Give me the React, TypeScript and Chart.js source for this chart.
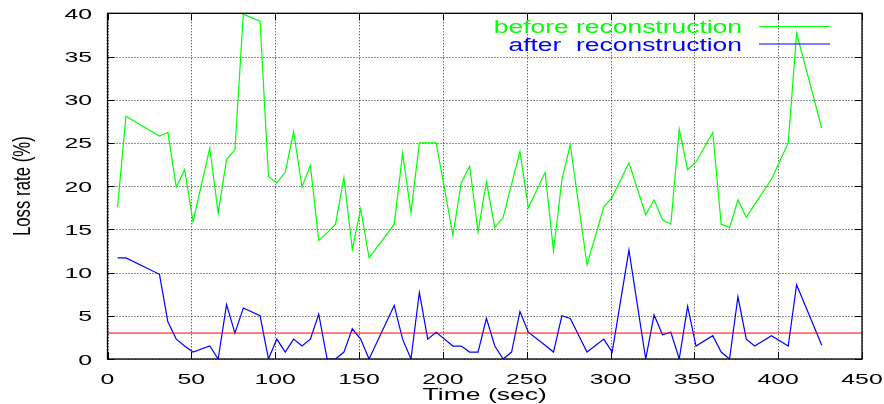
import React, { useEffect, useRef } from "react";
import { Chart, registerables } from "chart.js";

Chart.register(...registerables);

const times = [6, 11, 31, 36, 41, 46, 51, 61, 66, 71, 76, 81, 91, 96, 101, 106, 111, 116, 121, 126, 131, 136, 141, 146, 151, 156, 171, 176, 181, 186, 191, 196, 201, 206, 211, 216, 221, 226, 231, 236, 241, 246, 251, 261, 266, 271, 276, 286, 296, 301, 311, 321, 326, 331, 336, 341, 346, 351, 361, 366, 371, 376, 381, 386, 396, 406, 411, 426];

const beforeLoss = [17.6, 28.1, 25.8, 26.2, 19.9, 21.9, 15.9, 24.4, 16.9, 23.1, 24.2, 39.9, 39.1, 21.1, 20.4, 21.6, 26.3, 19.9, 22.4, 13.7, 14.6, 15.6, 21.0, 12.7, 17.4, 11.7, 15.6, 23.8, 16.9, 25.0, 25.0, 25.0, 19.7, 14.3, 20.4, 22.3, 14.7, 20.5, 15.2, 16.4, 20.2, 24.0, 17.5, 21.6, 12.5, 20.7, 24.8, 10.9, 17.6, 18.7, 22.7, 16.7, 18.4, 16.1, 15.6, 26.6, 21.9, 22.8, 26.2, 15.6, 15.2, 18.4, 16.4, 17.9, 20.8, 25.0, 37.7, 26.7];

const afterLoss = [11.7, 11.7, 9.8, 4.3, 2.3, 1.5, 0.8, 1.5, 0, 6.3, 3.0, 5.9, 5.0, 0, 2.3, 0.8, 2.3, 1.5, 2.3, 5.2, 0, 0, 0.8, 3.5, 2.3, 0, 6.2, 2.3, 0, 7.7, 2.3, 3.1, 2.3, 1.5, 1.5, 0.8, 0.8, 4.7, 1.5, 0, 0.8, 5.5, 3.1, 1.6, 0.8, 5.0, 4.7, 0.8, 2.3, 0.8, 12.6, 0, 5.1, 2.8, 3.1, 0, 6.1, 1.5, 2.7, 0.8, 0, 7.2, 2.3, 1.5, 2.7, 1.5, 8.6, 1.6];

const thresholdLoss = 3;
const thresholdRange = [0, 450];

const xTicks = [0, 50, 100, 150, 200, 250, 300, 350, 400, 450];
const yTicks = [0, 5, 10, 15, 20, 25, 30, 35, 40];

const xTitle = "Time (sec)";
const yTitle = "Loss rate (%)";
const legendBefore = "before reconstruction";
const legendAfter = "after  reconstruction";

const GREEN = "#00ff00";
const BLUE = "#0000ff";
const RED = "#ff0000";
const FONT = "'Liberation Sans', Arial, Helvetica, sans-serif";

function stretchedText(
  ctx: CanvasRenderingContext2D,
  text: string,
  x: number,
  y: number,
  size: number,
  sx: number,
  align: CanvasTextAlign,
  color: string
) {
  ctx.save();
  ctx.translate(x, y);
  ctx.scale(sx, 1);
  ctx.font = `${size}px ${FONT}`;
  ctx.textAlign = align;
  ctx.textBaseline = "alphabetic";
  ctx.fillStyle = color;
  ctx.fillText(text, 0, 0);
  ctx.restore();
}

const gnuplotPlugin = {
  id: "gnuplotLook",
  beforeDatasetsDraw(chart: any) {
    const { ctx, chartArea, scales } = chart;
    const { left, right, top, bottom } = chartArea;
    ctx.save();
    ctx.strokeStyle = "rgba(0,0,0,0.85)";
    ctx.lineWidth = 1;
    ctx.setLineDash([1, 2]);
    xTicks.forEach((v) => {
      const px = Math.round(scales.x.getPixelForValue(v)) + 0.5;
      ctx.beginPath();
      ctx.moveTo(px, top);
      ctx.lineTo(px, bottom);
      ctx.stroke();
    });
    yTicks.forEach((v) => {
      const py = Math.round(scales.y.getPixelForValue(v)) + 0.5;
      ctx.beginPath();
      ctx.moveTo(left, py);
      ctx.lineTo(right, py);
      ctx.stroke();
    });
    ctx.restore();
  },
  afterDraw(chart: any) {
    const { ctx, chartArea, scales } = chart;
    const { left, right, top, bottom } = chartArea;
    ctx.save();
    // border
    ctx.strokeStyle = "#000";
    ctx.lineWidth = 1.3;
    ctx.setLineDash([]);
    ctx.strokeRect(left, top, right - left, bottom - top);
    // inward ticks
    const tl = 7;
    ctx.lineWidth = 1;
    xTicks.forEach((v) => {
      const px = Math.round(scales.x.getPixelForValue(v)) + 0.5;
      ctx.beginPath();
      ctx.moveTo(px, bottom);
      ctx.lineTo(px, bottom - tl);
      ctx.moveTo(px, top);
      ctx.lineTo(px, top + tl);
      ctx.stroke();
    });
    yTicks.forEach((v) => {
      const py = Math.round(scales.y.getPixelForValue(v)) + 0.5;
      ctx.beginPath();
      ctx.moveTo(left, py);
      ctx.lineTo(left + tl, py);
      ctx.moveTo(right, py);
      ctx.lineTo(right - tl, py);
      ctx.stroke();
    });
    ctx.restore();

    // tick labels
    xTicks.forEach((v) => {
      stretchedText(ctx, String(v), scales.x.getPixelForValue(v), bottom + 24.5, 15.5, 1.6, "center", "#000");
    });
    yTicks.forEach((v) => {
      stretchedText(ctx, String(v), left - 15.5, scales.y.getPixelForValue(v) + 5.5, 15.5, 1.6, "right", "#000");
    });

    // axis titles
    stretchedText(ctx, xTitle, (left + right) / 2, bottom + 41, 16.3, 1.63, "center", "#000");
    ctx.save();
    ctx.translate(30, (top + bottom) / 2);
    ctx.scale(1.45, 1);
    ctx.rotate(-Math.PI / 2);
    ctx.font = `16.8px ${FONT}`;
    ctx.textAlign = "center";
    ctx.textBaseline = "alphabetic";
    ctx.fillStyle = "#000";
    ctx.fillText(yTitle, 0, 0);
    ctx.restore();

    // legend
    const textRight = 742;
    const lineX0 = 759;
    const lineX1 = 830;
    stretchedText(ctx, legendBefore, textRight, 33, 17.5, 1.51, "right", GREEN);
    stretchedText(ctx, legendAfter, textRight, 50.5, 17.5, 1.51, "right", BLUE);
    ctx.save();
    ctx.lineWidth = 1.2;
    ctx.strokeStyle = GREEN;
    ctx.beginPath();
    ctx.moveTo(lineX0, 26.5);
    ctx.lineTo(lineX1, 26.5);
    ctx.stroke();
    ctx.strokeStyle = BLUE;
    ctx.beginPath();
    ctx.moveTo(lineX0, 44);
    ctx.lineTo(lineX1, 44);
    ctx.stroke();
    ctx.restore();
  },
};

export default function App() {
  const canvasRef = useRef<HTMLCanvasElement | null>(null);

  useEffect(() => {
    if (!canvasRef.current) return;
    const chart = new Chart(canvasRef.current, {
      type: "line",
      data: {
        datasets: [
          {
            label: legendBefore,
            data: times.map((t, i) => ({ x: t, y: beforeLoss[i] })),
            borderColor: GREEN,
            borderWidth: 1.2,
            pointRadius: 0,
            tension: 0,
            fill: false,
            order: 2,
          },
          {
            label: legendAfter,
            data: times.map((t, i) => ({ x: t, y: afterLoss[i] })),
            borderColor: BLUE,
            borderWidth: 1.2,
            pointRadius: 0,
            tension: 0,
            fill: false,
            order: 1,
          },
          {
            label: "threshold",
            data: thresholdRange.map((t) => ({ x: t, y: thresholdLoss })),
            borderColor: RED,
            borderWidth: 1,
            pointRadius: 0,
            tension: 0,
            fill: false,
            order: 0,
          },
        ],
      },
      options: {
        animation: false,
        responsive: false,
        maintainAspectRatio: false,
        layout: { padding: { left: 107.5, right: 22, top: 13.3, bottom: 45 } },
        plugins: { legend: { display: false }, tooltip: { enabled: false } },
        scales: {
          x: {
            type: "linear",
            min: 0,
            max: 450,
            ticks: { display: false, stepSize: 50 },
            grid: { display: false, drawTicks: false },
            border: { display: false },
          },
          y: {
            type: "linear",
            min: 0,
            max: 40,
            ticks: { display: false, stepSize: 5 },
            grid: { display: false, drawTicks: false },
            border: { display: false },
          },
        },
      },
      plugins: [gnuplotPlugin],
    });
    return () => chart.destroy();
  }, []);

  return (
    <div style={{ position: "absolute", left: 0, top: 0, width: 884, height: 404, background: "#fff" }}>
      <canvas ref={canvasRef} width={884} height={404} style={{ width: 884, height: 404 }} />
    </div>
  );
}
